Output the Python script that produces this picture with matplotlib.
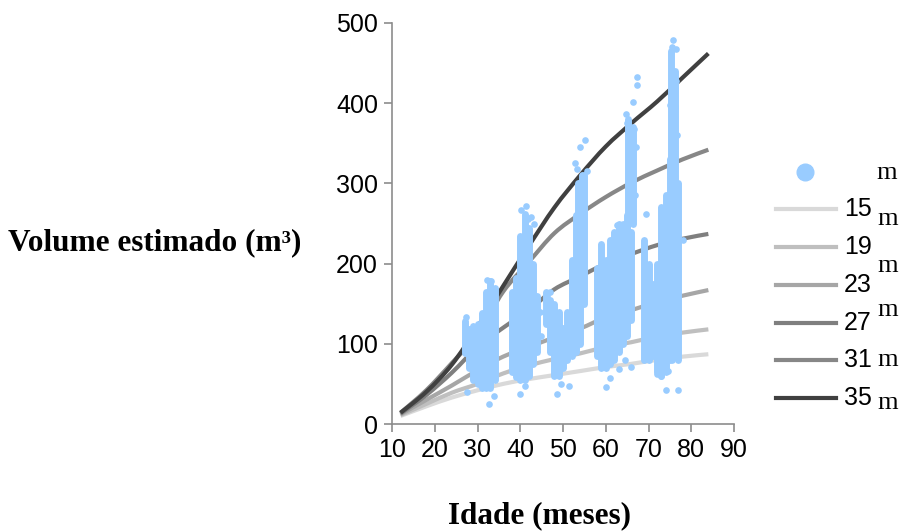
import matplotlib
matplotlib.use("Agg")
import matplotlib.pyplot as plt
from matplotlib.lines import Line2D
from matplotlib.path import Path
from matplotlib.patches import PathPatch

# ---------------- data ----------------
ages = [12, 18, 24, 30, 36, 42, 48, 54, 60, 66, 72, 78, 84]
site_labels = ["15", "19", "23", "27", "31", "35"]
v15 = [10, 22, 33, 42, 50, 56, 61, 66, 71, 75, 80, 84, 87]
v19 = [11, 25, 39, 50, 63, 73, 81, 88, 96, 102, 109, 114, 118]
v23 = [12, 30, 48, 67, 84, 96, 108, 119, 133, 142, 152, 160, 167]
v27 = [13, 36, 64, 96, 120, 142, 168, 184, 200, 212, 223, 231, 237]
v31 = [14, 42, 76, 112, 165, 202, 238, 262, 283, 301, 316, 330, 342]
v35 = [14, 40, 74, 121, 172, 222, 270, 310, 346, 375, 402, 432, 462]
curves = [v15, v19, v23, v27, v31, v35]

# dense columns of observations (age, lowest volume, highest volume)
col_age = [27, 28, 29, 30, 31, 32, 33, 34,
           38, 39, 40, 41, 42, 43, 44,
           46, 47, 48, 49, 50, 51, 52, 53, 54, 55, 53.5, 54.5,
           58, 59, 60, 61, 62, 63, 64, 65, 66, 65.3, 66.3,
           69, 70, 71, 72, 73, 74, 75, 76, 77, 75.3, 76.2]
col_lo = [88, 70, 55, 50, 45, 45, 45, 55,
          65, 58, 55, 55, 60, 75, 90,
          125, 90, 60, 60, 70, 80, 85, 90, 100, 150, 200, 200,
          85, 70, 70, 75, 80, 90, 100, 110, 130, 250, 250,
          80, 80, 85, 65, 60, 65, 80, 85, 80, 300, 300]
col_hi = [128, 118, 122, 125, 138, 165, 178, 170,
          165, 182, 235, 262, 245, 200, 160,
          165, 155, 150, 140, 120, 140, 205, 260, 300, 310, 300, 310,
          195, 225, 205, 230, 240, 250, 250, 260, 240, 380, 370,
          230, 200, 175, 200, 270, 285, 330, 330, 300, 465, 440]

# scattered individual observations
pt_age = [27.5, 32.6, 33.8, 32.3, 33.2, 27.3,
          40.2, 41.3, 42.5, 43.3, 41.8, 40.0, 41.0, 44.6, 44.8,
          55.2, 54.0, 52.8, 53.2, 55.5, 48.5, 49.5, 51.3, 47.0, 46.2,
          64.7, 65.0, 66.5, 67.3, 67.3, 66.3, 60.0, 61.0, 63.2, 64.5, 66.0,
          62.7, 67.0, 66.8,
          75.7, 75.5, 76.5, 75.4, 76.4, 75.0, 76.2, 75.7, 76.7, 78.0, 69.3,
          73.0, 74.0, 76.8, 75.5, 72.0, 74.6]
pt_vol = [40, 25, 35, 180, 178, 133,
          267, 272, 258, 250, 255, 37, 47, 140, 110,
          354, 346, 325, 318, 315, 37, 50, 48, 165, 160,
          387, 375, 368, 433, 423, 402, 46, 57, 68, 80, 71,
          248, 345, 285,
          479, 470, 467, 432, 428, 398, 395, 378, 360, 229, 262,
          60, 42, 42, 80, 62, 66]

# ---------------- style ----------------
line_colors = ["#d9d9d9", "#bfbfbf", "#a6a6a6", "#7f7f7f", "#878787", "#404040"]
pt_color = "#99ccff"
axis_gray = "#8c8c8c"

fig = plt.figure(figsize=(9.08, 5.32), dpi=100)
ax = fig.add_axes([392 / 908, 1 - 424 / 532, (734 - 392) / 908, (424 - 23) / 532])


def smooth_path(xs, ys):
    """Smoothed (Catmull-Rom style) Bezier path through the given data points."""
    verts = [(xs[0], ys[0])]
    codes = [Path.MOVETO]
    n = len(xs)
    for i in range(n - 1):
        x0, y0 = (xs[i - 1], ys[i - 1]) if i > 0 else (xs[i], ys[i])
        x1, y1 = xs[i], ys[i]
        x2, y2 = xs[i + 1], ys[i + 1]
        x3, y3 = (xs[i + 2], ys[i + 2]) if i + 2 < n else (xs[i + 1], ys[i + 1])
        c1 = (x1 + (x2 - x0) / 6.0, y1 + (y2 - y0) / 6.0)
        c2 = (x2 - (x3 - x1) / 6.0, y2 - (y3 - y1) / 6.0)
        verts += [c1, c2, (x2, y2)]
        codes += [Path.CURVE4] * 3
    return Path(verts, codes)


for vals, c in zip(curves, line_colors):
    ax.add_patch(PathPatch(smooth_path(ages, vals), facecolor="none", edgecolor=c,
                           linewidth=3.0, capstyle="butt", zorder=2))

for a, lo, hi in zip(col_age, col_lo, col_hi):
    ax.plot([a, a], [lo, hi], color=pt_color, linewidth=5.0,
            solid_capstyle="round", zorder=4)
ax.scatter(pt_age, pt_vol, s=23, color=pt_color, linewidths=0, zorder=4)

ax.set_xlim(10, 90)
ax.set_ylim(0, 500)
ax.set_xticks(range(10, 91, 10))
ax.set_yticks(range(0, 501, 100))
for s in ["top", "right"]:
    ax.spines[s].set_visible(False)
for s in ["left", "bottom"]:
    ax.spines[s].set_color(axis_gray)
    ax.spines[s].set_linewidth(1.2)
ax.tick_params(axis="both", direction="out", length=6, width=1.2,
               color=axis_gray, labelsize=18, pad=4)
for lab in ax.get_xticklabels() + ax.get_yticklabels():
    lab.set_family("Liberation Sans")

fig.text(8 / 908, 1 - 243 / 532, "Volume estimado (m³)", family="Liberation Serif",
         fontweight="bold", fontsize=22.5, ha="left", va="center")
fig.text(540 / 908, 1 - 516 / 532, "Idade (meses)", family="Liberation Serif",
         fontweight="bold", fontsize=22.5, ha="center", va="center")

# ---------------- legend (manual) ----------------
def fx(px):
    return px / 908


def fy(py):
    return 1 - py / 532


fig.add_artist(Line2D([fx(805)], [fy(172)], marker="o", markersize=12,
                      color=pt_color, linestyle="none", transform=fig.transFigure))
leg_y = [209, 247, 285, 323, 360, 398]
for yy, c, lab in zip(leg_y, line_colors, site_labels):
    fig.add_artist(Line2D([fx(776), fx(836)], [fy(yy), fy(yy)], color=c,
                          linewidth=3.0, transform=fig.transFigure))
    fig.text(fx(844), fy(yy), lab, family="Liberation Sans", fontsize=18,
             ha="left", va="center")
m_pos = [(876, 173), (877, 219), (877, 266), (877, 310), (877, 360), (877, 403)]
for (xx, yy) in m_pos:
    fig.text(fx(xx), fy(yy), "m", family="Liberation Serif", fontsize=19,
             ha="left", va="center", zorder=5,
             bbox=dict(facecolor="white", edgecolor="none", pad=0.5))

fig.savefig("out.png", dpi=100)
